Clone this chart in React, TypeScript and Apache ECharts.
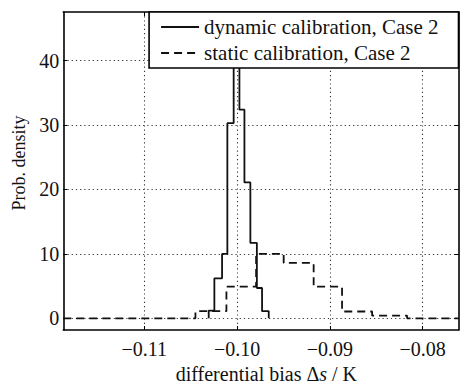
import React, { useEffect, useRef } from "react";
import * as echarts from "echarts";

const xTicks = [-0.11, -0.1, -0.09, -0.08];
const yTicks = [0, 10, 20, 30, 40];
const xRange = [-0.11873, -0.07614];
const yRange = [-1.82, 47.56];

const dynamicEdges = [-0.10306, -0.10245, -0.10162, -0.10105, -0.10037, -0.09975, -0.09921, -0.09857, -0.09787, -0.09731, -0.09659];
const dynamicDensity = [1.2, 6.2, 10, 30.3, 46, 32.4, 21.1, 11.7, 4.7, 1.1];

const staticEdges = [-0.10449, -0.10115, -0.09795, -0.09498, -0.09175, -0.08869, -0.08545, -0.08168];
const staticDensity = [1.1, 4.9, 10, 8.6, 4.9, 1.05, 0.4];

const seriesNames = ["dynamic calibration, Case 2", "static calibration, Case 2"];

const FONT = "Times New Roman, Liberation Serif, serif";

function stairs(edges: number[], vals: number[]): number[][] {
  const pts: number[][] = [[edges[0], 0]];
  vals.forEach((v, i) => {
    pts.push([edges[i], v], [edges[i + 1], v]);
  });
  pts.push([edges[edges.length - 1], 0]);
  return pts;
}

const fmtX = (v: number) => (v < 0 ? "\u2212" : "") + Math.abs(v).toFixed(2);

export default function App() {
  const ref = useRef<HTMLDivElement>(null);
  useEffect(() => {
    if (!ref.current) return;
    const chart = echarts.init(ref.current, undefined, { renderer: "svg" });
    const frame = { show: true, onZero: false, lineStyle: { color: "#000", width: 1.6 } };
    const tickIn = (vals: number[]) => ({
      show: true,
      inside: true,
      length: 4,
      customValues: vals,
      lineStyle: { color: "#000", width: 1 },
    });
    const grid = { color: "#333", width: 1.1, type: [1.2, 3] as any };
    const dyn = stairs(dynamicEdges, dynamicDensity);
    const stat = [[xRange[0], 0], ...stairs(staticEdges, staticDensity), [xRange[1], 0]];
    chart.setOption({
      animation: false,
      backgroundColor: "#fff",
      textStyle: { fontFamily: FONT },
      grid: { left: 63.3, right: 1.5, top: 12, bottom: 55, containLabel: false, outerBoundsMode: "none" },
      xAxis: [
        {
          type: "value",
          position: "bottom",
          min: xRange[0],
          max: xRange[1],
          axisLine: frame,
          axisTick: tickIn(xTicks),
          axisLabel: {
            customValues: xTicks,
            formatter: fmtX,
            color: "#111",
            fontSize: 20,
            fontFamily: FONT,
            margin: 9,
          },
          splitLine: { show: true, lineStyle: grid },
          name: "differential bias \u0394{i|s} / K",
          nameLocation: "middle",
          nameGap: 33,
          nameTextStyle: {
            color: "#111",
            fontSize: 20,
            fontFamily: FONT,
            lineHeight: 20,
            padding: [0, 0, 0, 11],
            rich: { i: { fontStyle: "italic", fontSize: 20, fontFamily: FONT, color: "#111", lineHeight: 20 } },
          },
        },
        {
          type: "value",
          position: "top",
          min: xRange[0],
          max: xRange[1],
          axisLine: frame,
          axisTick: tickIn(xTicks),
          axisLabel: { show: false },
          splitLine: { show: false },
        },
      ],
      yAxis: [
        {
          type: "value",
          position: "left",
          min: yRange[0],
          max: yRange[1],
          axisLine: frame,
          axisTick: tickIn(yTicks),
          axisLabel: {
            customValues: yTicks,
            formatter: (v: number) => String(v),
            color: "#111",
            fontSize: 20,
            fontFamily: FONT,
            margin: 4,
          },
          splitLine: { show: true, lineStyle: grid },
          name: "Prob. density",
          nameLocation: "middle",
          nameGap: 33,
          nameTextStyle: { color: "#111", fontSize: 18, fontFamily: FONT, padding: [0, 0, 0, 16] },
        },
        {
          type: "value",
          position: "right",
          min: yRange[0],
          max: yRange[1],
          axisLine: frame,
          axisTick: tickIn(yTicks),
          axisLabel: { show: false },
          splitLine: { show: false },
        },
      ],
      legend: {
        show: true,
        orient: "vertical",
        right: 1.5,
        top: 12,
        padding: [4, 20, 4, 11],
        itemWidth: 38,
        itemHeight: 14,
        itemGap: 4,
        backgroundColor: "#fff",
        borderColor: "#000",
        borderWidth: 1.6,
        borderRadius: 0,
        itemStyle: { opacity: 0 },
        textStyle: { color: "#111", fontSize: 21, fontFamily: FONT, lineHeight: 22 },
        data: seriesNames,
      },
      series: [
        {
          name: seriesNames[0],
          type: "line",
          data: dyn,
          symbol: "none",
          xAxisIndex: 0,
          yAxisIndex: 0,
          lineStyle: { color: "#111", width: 1.8, type: "solid" },
          itemStyle: { color: "#111" },
          z: 3,
        },
        {
          name: seriesNames[1],
          type: "line",
          data: stat,
          symbol: "none",
          xAxisIndex: 0,
          yAxisIndex: 0,
          lineStyle: { color: "#111", width: 1.8, type: [8, 5] },
          itemStyle: { color: "#111" },
          z: 2,
        },
      ],
    });
    return () => chart.dispose();
  }, []);
  return (
    <div
      ref={ref}
      style={{ position: "fixed", left: 0, top: 0, width: 460, height: 385 }}
    />
  );
}
